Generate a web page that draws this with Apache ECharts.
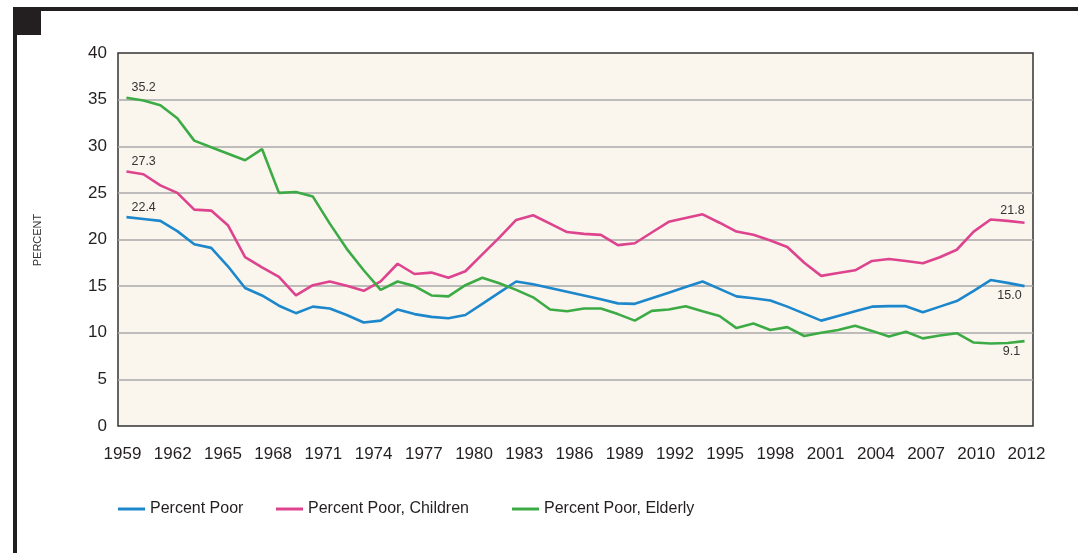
<!DOCTYPE html>
<html lang="en">

<head>
    <meta charset="UTF-8">
    <title>Poverty Rates</title>
    <script src="https://cdn.jsdelivr.net/npm/echarts@6.0.0/dist/echarts.min.js"></script>
    <style>
        body { margin: 0; background: #fff; }
    </style>
</head>

<body>
    <div id="main" style="width: 1078px;height:553px;"></div>
    <script type="text/javascript">
        // years on the data axis, one per point
        const years = [];
        for (let y = 1959; y <= 2012; y++) years.push(String(y));

        // tick labels under the chart (evenly spaced in the original, not tied to the points)
        const tickLabels = ['1959', '1962', '1965', '1968', '1971', '1974', '1977', '1980', '1983',
            '1986', '1989', '1992', '1995', '1998', '2001', '2004', '2007', '2010', '2012'];

        const percentPoor = [22.4, 22.2, 22.0, 20.9, 19.5, 19.1, 17.1, 14.8, 14.0, 12.9,
            12.1, 12.8, 12.6, 11.9, 11.1, 11.3, 12.5, 12.0, 11.7, 11.55,
            11.9, 13.1, 14.3, 15.5, 15.2, 14.8, 14.4, 14.0, 13.6, 13.15,
            13.1, 13.7, 14.3, 14.9, 15.5, 14.7, 13.9, 13.7, 13.45, 12.8,
            12.05, 11.3, 11.8, 12.3, 12.8, 12.85, 12.85, 12.2, 12.8, 13.4,
            14.5, 15.65, 15.35, 15.0];

        const percentChildren = [27.3, 27.0, 25.8, 25.0, 23.2, 23.1, 21.5, 18.1, 17.0, 16.0,
            14.0, 15.1, 15.5, 15.05, 14.5, 15.5, 17.4, 16.3, 16.45, 15.9,
            16.6, 18.4, 20.2, 22.1, 22.6, 21.7, 20.8, 20.6, 20.5, 19.4,
            19.6, 20.75, 21.9, 22.3, 22.7, 21.8, 20.85, 20.5, 19.9, 19.2,
            17.5, 16.1, 16.4, 16.7, 17.7, 17.9, 17.7, 17.45, 18.1, 18.9,
            20.85, 22.15, 22.0, 21.8];

        const percentElderly = [35.2, 34.9, 34.4, 33.0, 30.6, 29.9, 29.2, 28.5, 29.7, 25.0,
            25.1, 24.6, 21.7, 19.0, 16.7, 14.6, 15.5, 15.0, 14.0, 13.9,
            15.1, 15.9, 15.3, 14.6, 13.8, 12.5, 12.3, 12.6, 12.6, 12.0,
            11.3, 12.35, 12.5, 12.85, 12.3, 11.8, 10.5, 11.0, 10.3, 10.6,
            9.65, 10.0, 10.3, 10.75, 10.2, 9.6, 10.1, 9.4, 9.7, 9.95,
            8.95, 8.85, 8.9, 9.1];

        const font = 'Liberation Sans, Arial, sans-serif';
        const ink = '#231f20';

        // put a value label on the first and last point of a series
        function withEndLabels(values, startLabel, endLabel) {
            return values.map((v, i) => {
                if (i === 0) return { value: v, label: startLabel };
                if (i === values.length - 1) return { value: v, label: endLabel };
                return v;
            });
        }

        const startLabel = { show: true, position: 'right', distance: 5, offset: [0, -10] };

        function lineSeries(name, color, data) {
            return {
                name: name,
                type: 'line',
                xAxisIndex: 0,
                yAxisIndex: 0,
                data: data,
                symbol: 'circle',
                symbolSize: 0,
                showSymbol: true,
                showAllSymbol: true,
                lineStyle: { color: color, width: 2.6 },
                itemStyle: { color: color },
                label: {
                    show: false,
                    fontFamily: font,
                    fontSize: 12.5,
                    color: '#333',
                    formatter: p => Number(p.value).toFixed(1)
                },
                emphasis: { disabled: true },
                z: 3
            };
        }

        const legendBase = {
            top: 501,
            padding: 0,
            icon: 'rect',
            itemWidth: 27,
            itemHeight: 3,
            textStyle: { fontFamily: font, fontSize: 16, color: ink }
        };

        let options = {
            animation: false,
            backgroundColor: '#fff',
            textStyle: { fontFamily: font },
            grid: [
                {
                    left: 118, top: 53, width: 915, height: 373,
                    show: true,
                    backgroundColor: '#faf6ee',
                    borderColor: '#333',
                    borderWidth: 1.5
                },
                // only used to place the evenly spaced year labels
                { left: 122.5, right: 51.5, top: 53, height: 373 }
            ],
            xAxis: [
                {
                    type: 'category',
                    gridIndex: 0,
                    data: years,
                    boundaryGap: true,
                    axisLine: { show: false },
                    axisTick: { show: false },
                    axisLabel: { show: false },
                    splitLine: { show: false }
                },
                {
                    type: 'category',
                    gridIndex: 1,
                    data: tickLabels,
                    boundaryGap: false,
                    axisLine: { show: false },
                    axisTick: { show: false },
                    axisLabel: { interval: 0, margin: 20, fontSize: 17, color: ink, fontFamily: font },
                    splitLine: { show: false }
                }
            ],
            yAxis: [
                {
                    type: 'value',
                    gridIndex: 0,
                    min: 0,
                    max: 40,
                    interval: 5,
                    axisLine: { show: false },
                    axisTick: { show: false },
                    axisLabel: { margin: 11, fontSize: 17, color: ink, fontFamily: font },
                    splitLine: {
                        show: true,
                        showMinLine: false,
                        showMaxLine: false,
                        lineStyle: { color: '#a9a9a9', width: 1.5 }
                    }
                },
                { type: 'value', gridIndex: 1, show: false }
            ],
            legend: [
                Object.assign({ data: ['Percent Poor'], left: 118 }, legendBase),
                Object.assign({ data: ['Percent Poor, Children'], left: 276 }, legendBase),
                Object.assign({ data: ['Percent Poor, Elderly'], left: 512 }, legendBase)
            ],
            graphic: [
                // black frame of the page
                { type: 'rect', left: 13, top: 7, shape: { width: 1065, height: 4 }, style: { fill: ink } },
                { type: 'rect', left: 13, top: 7, shape: { width: 4, height: 546 }, style: { fill: ink } },
                { type: 'rect', left: 13, top: 7, shape: { width: 28, height: 28 }, style: { fill: ink } },
                {
                    type: 'text',
                    x: 38,
                    y: 240,
                    rotation: Math.PI / 2,
                    style: {
                        text: 'PERCENT',
                        fontFamily: font,
                        fontSize: 11,
                        fill: '#333',
                        align: 'center',
                        verticalAlign: 'middle'
                    }
                }
            ],
            series: [
                lineSeries('Percent Poor', '#1c87cb',
                    withEndLabels(percentPoor, startLabel,
                        { show: true, position: 'bottom', distance: 4, offset: [-15, -1] })),
                lineSeries('Percent Poor, Children', '#de438e',
                    withEndLabels(percentChildren, startLabel,
                        { show: true, position: 'top', distance: 4, offset: [-12, -2] })),
                lineSeries('Percent Poor, Elderly', '#3dab45',
                    withEndLabels(percentElderly, startLabel,
                        { show: true, position: 'bottom', distance: 4, offset: [-13, 0] }))
            ]
        };

        let myChart = echarts.init(document.getElementById('main'));
        myChart.setOption(options);
    </script>
</body>

</html>
